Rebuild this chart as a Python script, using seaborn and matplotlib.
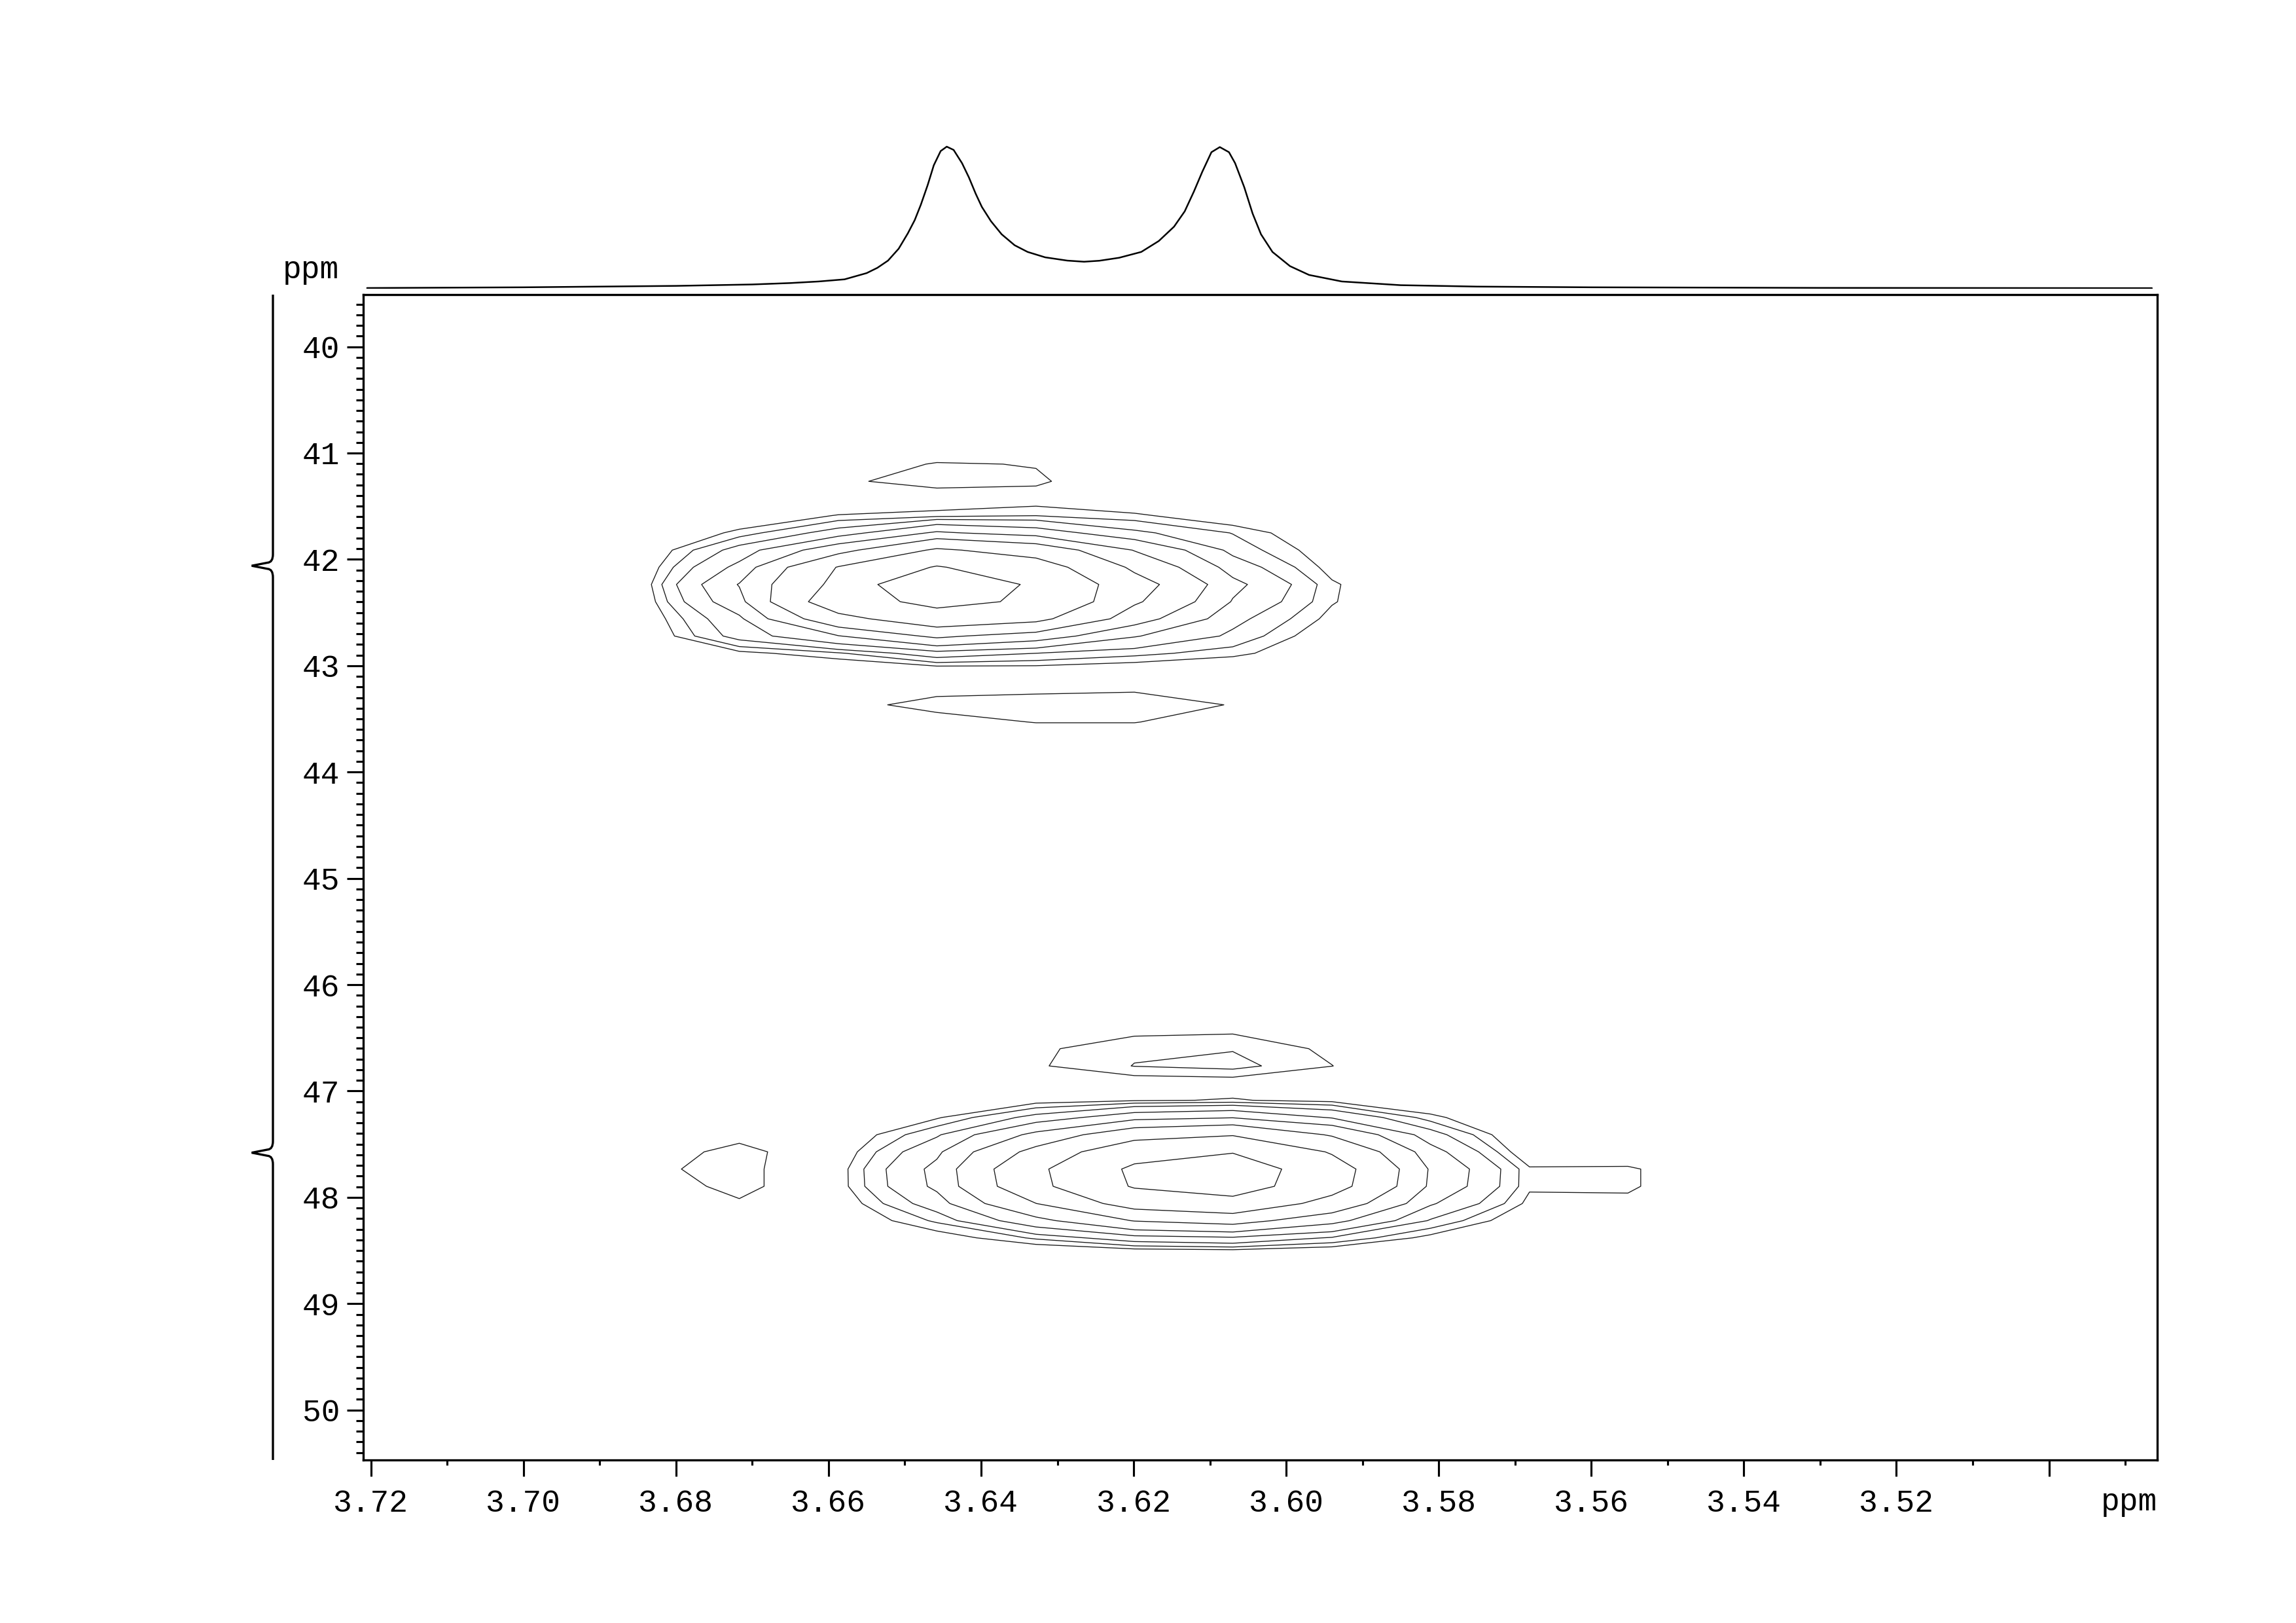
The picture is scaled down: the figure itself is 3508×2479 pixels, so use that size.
import numpy as np
import matplotlib
matplotlib.use('Agg')
import matplotlib.pyplot as plt
import seaborn as sns
from matplotlib.path import Path
from matplotlib.patches import PathPatch
from matplotlib.transforms import blended_transform_factory

# F2 (1H) grid columns of the 2D spectrum, ppm
f2_cols = [3.6975, 3.6846, 3.6717, 3.6587, 3.6458, 3.6328, 3.6199,
           3.6070, 3.5940, 3.5811, 3.5681, 3.5552, 3.5423]

# F1 (13C) rows around the upper cross peak, ppm
upper_rows = [40.943, 41.104, 41.266, 41.428, 41.589, 41.751, 41.913, 42.074, 42.236,
              42.398, 42.559, 42.721, 42.883, 43.044, 43.206, 43.368, 43.529, 43.691]
upper_z = [
    [0, 0, 0, 0, 0, 0, 0, 0, 0, 0, 0, 0, 0],
    [0, 0, 0, 2, 11, 9.5, 2, 0, 0, 0, 0, 0, 0],
    [0, 0, 1, 8, 14.5, 11.5, 2, 0, 0, 0, 0, 0, 0],
    [0, 0, 0.7, 1.5, 3, 6, 1.1, 0.5, 0, 0, 0, 0, 0],
    [0, 0.4, 3.7, 10.5, 13, 15, 11.5, 4, 0.8, 0, 0, 0, 0],
    [0, 1.1, 11.7, 26.5, 54, 42, 24, 14.7, 2.5, 0, 0, 0, 0],
    [0, 2.5, 26, 65, 120, 96, 50, 19, 5.5, 0, 0, 0, 0],
    [0, 3.7, 38, 116, 175, 135, 70, 28, 7.3, 0, 0, 0, 0],
    [0, 5, 52, 125, 240, 158, 89, 38, 11, 0, 0, 0, 0],
    [0, 3.9, 45, 144, 187, 162, 80, 33, 10.6, 0, 0, 0, 0],
    [0, 3, 31, 100, 144, 125, 60, 25, 7.8, 0, 0, 0, 0],
    [0, 1.7, 26, 50, 81.6, 62, 35, 20, 4, 0, 0, 0, 0],
    [0, 0.6, 8, 14, 28, 22, 17, 12, 3, 0, 0, 0, 0],
    [0, 0, 0, 2, 4, 5.5, 4, 2, 0, 0, 0, 0, 0],
    [0, 0, 0, 2, 5.7, 7, 8.2, 3, 0, 0, 0, 0, 0],
    [0, 0, 0, 6, 14, 15, 15, 9.5, 0, 0, 0, 0, 0],
    [0, 0, 0, 0, 5, 10.5, 10.5, 3, 0, 0, 0, 0, 0],
    [0, 0, 0, 0, 0, 0, 0, 0, 0, 0, 0, 0, 0],
]

# F1 rows around the lower cross peak, ppm
lower_rows = [46.278, 46.440, 46.602, 46.764, 46.925, 47.087, 47.249, 47.411,
              47.572, 47.734, 47.896, 48.058, 48.219, 48.381, 48.543, 48.704]
lower_z = [
    [0, 0, 0, 0, 0, 0, 0, 0, 0, 0, 0, 0, 0],
    [0, 0, 0, 0, 0, 3, 8.5, 9.2, 5, 0, 0, 0, 0],
    [0, 0, 0, 0, 2, 8.7, 14, 14.6, 8.6, 2, 0, 0, 0],
    [0, 0, 0, 0, 2, 9.2, 15.2, 17, 10.1, 3, 0, 0, 0],
    [0, 0, 0, 0, 0, 3, 6, 6.4, 4, 1, 0, 0, 0],
    [0, 0, 0, 0.3, 1.9, 6.9, 9.2, 10.5, 8, 2.5, 0, 0, 0],
    [0, 0, 0, 1.5, 9.2, 25.3, 44, 50, 32.8, 11.9, 0, 0, 0],
    [0, 0, 8, 3.3, 20.5, 56, 97.6, 111, 72.8, 26.4, 0, 0, 0],
    [0, 6.4, 12, 5, 31, 85, 147.7, 168, 110, 40, 3, 2, 0],
    [0, 9.3, 11, 7, 38, 104, 181, 206, 135, 49, 11, 11.5, 0],
    [0, 8, 11, 7, 36.9, 101, 175.7, 200, 131, 47.6, 11, 11.5, 0],
    [0, 5, 9.6, 4.4, 27.7, 75.7, 131.8, 150, 98.3, 35.7, 8, 7.7, 0],
    [0, 0, 0, 2.6, 16.2, 44.4, 77.3, 88, 57.6, 20.9, 3, 1, 0],
    [0, 0, 0, 0.9, 5.9, 16.1, 28, 32, 20.9, 7.6, 0, 0, 0],
    [0, 0, 0, 0, 0, 0, 0, 0, 0, 0, 0, 0, 0],
    [0, 0, 0, 0, 0, 0, 0, 0, 0, 0, 0, 0, 0],
]

contour_levels = [10, 15, 22, 34, 51, 76, 114, 171]

# 1D projection on top (F2)
proj_ppm = [3.7205, 3.70, 3.68, 3.67, 3.665, 3.6613, 3.6579, 3.6550, 3.6536, 3.6522,
            3.6508, 3.6496, 3.6487, 3.6479, 3.6470, 3.6462, 3.6453, 3.6445, 3.6436,
            3.6425, 3.6416, 3.6407, 3.6399, 3.6387, 3.6373, 3.6356, 3.6339, 3.6316,
            3.6287, 3.6265, 3.6245, 3.6219, 3.6190, 3.6167, 3.6147, 3.6133, 3.6121,
            3.6110, 3.6098, 3.6087, 3.6075, 3.6067, 3.6055, 3.6044, 3.6033, 3.6018,
            3.5995, 3.5970, 3.5927, 3.585, 3.575, 3.56, 3.53, 3.4865]
proj_int = [0.005, 0.01, 0.02, 0.03, 0.04, 0.051, 0.066, 0.11, 0.147, 0.198,
            0.282, 0.39, 0.483, 0.591, 0.73, 0.869, 0.969, 1.0, 0.977,
            0.884, 0.784, 0.668, 0.576, 0.475, 0.383, 0.306, 0.259, 0.221,
            0.198, 0.19, 0.197, 0.218, 0.259, 0.336, 0.437, 0.545, 0.684,
            0.823, 0.961, 0.997, 0.961, 0.884, 0.715, 0.529, 0.383, 0.259,
            0.159, 0.097, 0.051, 0.025, 0.015, 0.01, 0.006, 0.004]

x_major = [3.72, 3.70, 3.68, 3.66, 3.64, 3.62, 3.60, 3.58, 3.56, 3.54, 3.52, 3.50]
x_labels = ['3.72', '3.70', '3.68', '3.66', '3.64', '3.62', '3.60', '3.58',
            '3.56', '3.54', '3.52', '']
y_major = [40, 41, 42, 43, 44, 45, 46, 47, 48, 49, 50]
brace_cusps = [42.06, 47.58]

x_lim = (3.721, 3.4858)
y_lim = (50.47, 39.51)

sns.set_theme(style='white')
plt.rcParams['font.family'] = ['Liberation Mono', 'DejaVu Sans']
plt.rcParams['axes.linewidth'] = 0.8
plt.rcParams['axes.edgecolor'] = 'black'

W, H = 3508, 2479
fig = plt.figure(figsize=(W / 300, H / 300), dpi=300)
fig.patch.set_facecolor('white')

ax_l, ax_r, ax_t, ax_b = 555, 3296, 450, 2230
ax = fig.add_axes([ax_l / W, 1 - ax_b / H, (ax_r - ax_l) / W, (ax_b - ax_t) / H])
ax.set_facecolor('white')

for rows, z in [(upper_rows, upper_z), (lower_rows, lower_z)]:
    X, Y = np.meshgrid(f2_cols, rows)
    ax.contour(X, Y, np.array(z), levels=contour_levels,
               colors='#1a1a1a', linewidths=0.32)

ax.set_xlim(*x_lim)
ax.set_ylim(*y_lim)
ax.set_xticks(x_major)
ax.set_xticklabels(x_labels)
ax.set_xticks(np.round(np.arange(3.71, 3.485, -0.02), 2), minor=True)
ax.set_yticks(y_major)
ax.set_yticklabels([str(v) for v in y_major])
ax.set_yticks([v for v in np.round(np.arange(39.6, 50.45, 0.1), 1) if abs(v - round(v)) > 0.01],
              minor=True)
ax.tick_params(axis='both', which='both', direction='out', bottom=True, left=True,
               top=False, right=False, width=0.75, color='black', labelsize=11.5,
               labelcolor='black')
ax.tick_params(axis='x', which='major', length=6, pad=4.5)
ax.tick_params(axis='x', which='minor', length=2)
ax.tick_params(axis='y', which='major', length=6, pad=2.6)
ax.tick_params(axis='y', which='minor', length=2.6)
for sp in ax.spines.values():
    sp.set_visible(True)
    sp.set_linewidth(0.8)
    sp.set_color('black')
ax.set_xlabel('')
ax.set_ylabel('')

# projection trace
base_y = 441
axp = fig.add_axes([ax_l / W, 1 - base_y / H, (ax_r - ax_l) / W, 217 * 1.1 / H])
sns.lineplot(x=proj_ppm, y=proj_int, ax=axp, color='black', linewidth=0.6,
             sort=False, estimator=None)
axp.set_xlim(*x_lim)
axp.set_ylim(0, 1.1)
axp.set_axis_off()

# brace on the left of the F1 axis
trans = blended_transform_factory(ax.transAxes, ax.transData)
x0 = (417 - ax_l) / (ax_r - ax_l)
tip = (384.5 - ax_l) / (ax_r - ax_l)
d = x0 - tip
half = 0.108
verts = [(x0, y_lim[1])]
codes = [Path.MOVETO]
for c in brace_cusps:
    verts += [(x0, c - half), (x0, c - 0.3 * half), (x0 - 0.25 * d, c - 0.27 * half),
              (tip, c), (x0 - 0.25 * d, c + 0.27 * half),
              (x0, c + 0.3 * half), (x0, c + half)]
    codes += [Path.LINETO, Path.CURVE3, Path.CURVE3, Path.LINETO, Path.LINETO,
              Path.CURVE3, Path.CURVE3]
verts.append((x0, y_lim[0]))
codes.append(Path.LINETO)
brace = PathPatch(Path(verts, codes), fill=False, lw=0.8, edgecolor='black',
                  transform=trans, clip_on=False, joinstyle='miter')
ax.add_artist(brace)

fig.text(518 / W, 1 - 425 / H, 'ppm', ha='right', va='baseline', fontsize=11.5, color='black')
fig.text(ax_r / W, 1 - 2307 / H, 'ppm', ha='right', va='baseline', fontsize=11.5, color='black')

fig.savefig('out.png', dpi=300, facecolor='white')
